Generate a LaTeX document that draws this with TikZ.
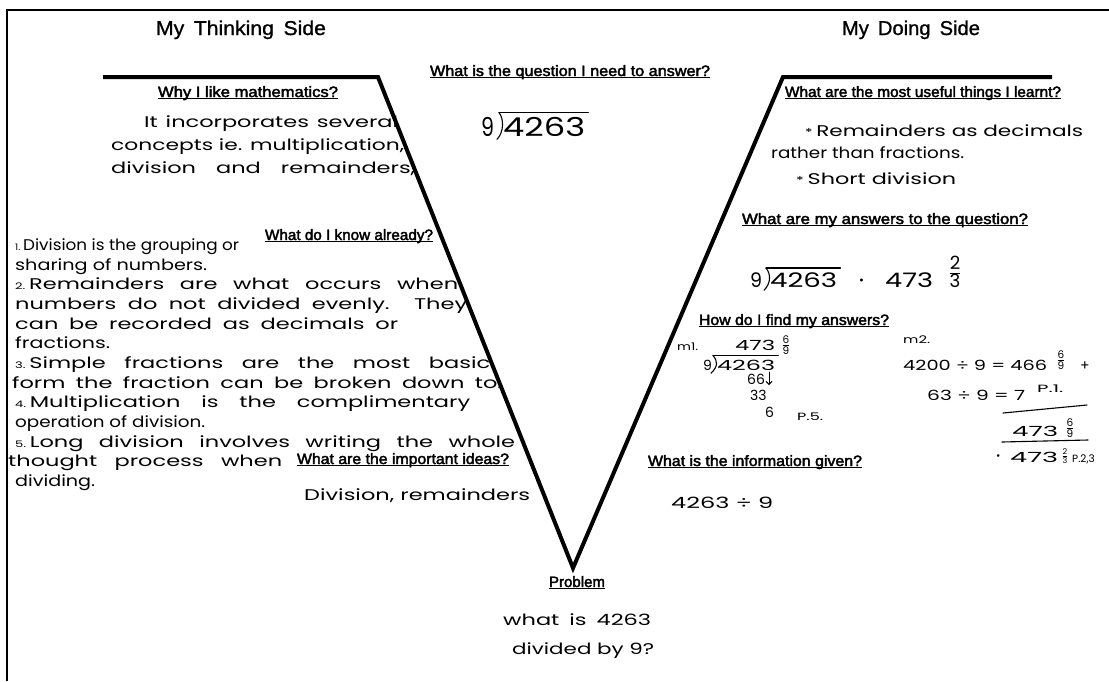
\documentclass[tikz,border=0pt]{standalone}
\usepackage{fontspec}
\usepackage{graphicx}
\usepackage{amsmath}
\setmainfont{Liberation Sans}
\newfontfamily\labf[FakeBold=2.5]{Liberation Sans}
\newfontfamily\ttlf[FakeBold=1]{Liberation Sans}
\newfontfamily\hwf{Poppins}
\usetikzlibrary{calc,arrows.meta}
\newdimen\fitdim
\newsavebox\fitbox
\newcommand\fitw[2]{\sbox\fitbox{#2}\fitdim=\wd\fitbox\pgfmathsetmacro\fitsx{#1/\fitdim}\scalebox{\fitsx}[1]{\usebox\fitbox}}
% handwritten line: stretch letters at most 1.45, spread the word spaces for the rest
\newcommand\fitl[2]{\sbox\fitbox{#2}\fitdim=\wd\fitbox
  \pgfmathsetmacro\fitsx{#1/\fitdim}%
  \pgfmathparse{\fitsx>1.45?1:0}%
  \ifnum\pgfmathresult=1 \pgfmathsetmacro\fitinner{#1/1.45}\scalebox{1.45}[1]{\makebox[\fitinner pt][s]{#2}}%
  \else\scalebox{\fitsx}[1]{\usebox\fitbox}\fi}
\newcommand\ul[1]{\setbox0\hbox{#1}\rlap{\rule[-2.4pt]{\wd0}{1.2pt}}\box0}
\newcommand\hfr[2]{$\genfrac{}{}{0.8pt}{}{\text{#1}}{\text{#2}}$}
\newcommand\ldivbar[1]{%
  \draw[pen] ($(#1.north west)+(-4,-4)$) -- ($(#1.north east)+(3,-4)$);
  \draw[pen] ($(#1.north west)+(-4,-4)$) .. controls ($(#1.north west)+(1,2)$) and ($(#1.south west)+(1,-4)$) .. ($(#1.south west)+(-6,3)$);}
\begin{document}
\begin{tikzpicture}[x=1pt,y=-1pt,
  lab/.style={font=\labf\fontsize{15}{16}\selectfont, inner sep=0pt, anchor=base},
  ttl/.style={font=\ttlf\fontsize{20}{22}\selectfont, inner sep=0pt, anchor=base},
  hw/.style={font=\hwf\fontsize{15.5}{18}\selectfont, inner sep=0pt, anchor=base west},
  hwm/.style={font=\hwf\fontsize{14}{15}\selectfont, inner sep=0pt, anchor=base west},
  hws/.style={font=\hwf\fontsize{10.5}{12}\selectfont, inner sep=0pt, anchor=base west},
  fr/.style={font=\hwf\fontsize{15}{15}\selectfont, inner sep=0pt, anchor=center},
  vline/.style={line width=4pt, line join=miter},
  frameline/.style={line width=2.5pt},
  pen/.style={line width=1.1pt, line cap=round}]
\useasboundingbox (0,0) rectangle (1109,681);
\fill[white] (0,0) rectangle (1109,681);
% frame
\coordinate (FB) at (7,681); \coordinate (FC) at (7,10); \coordinate (FR) at (1109,10);
\draw[frameline] (FB) -- (FC) -- (FR);
% V
\coordinate (L0) at (103,77); \coordinate (L1) at (378,77); \coordinate (V) at (573,568);
\coordinate (R1) at (783,77); \coordinate (R0) at (1052,77);
\draw[vline] (L0) -- (L1) -- (V) -- (R1) -- (R0);
% titles
\node[ttl] (tL) at (241,35) {\fitw{170}{My\hspace{0.45em}Thinking\hspace{0.45em}Side}};
\node[ttl] (tR) at (911,35) {\fitw{138}{My\hspace{0.45em}Doing\hspace{0.45em}Side}};
% labels
\node[lab] (qWhy) at (248,97) {\ul{\fitw{180}{Why I like mathematics?}}};
\node[lab] (qQ) at (570,76) {\ul{\fitw{280}{What is the question I need to answer?}}};
\node[lab] (qUse) at (923,97) {\ul{\fitw{276}{What are the most useful things I learnt?}}};
\node[lab] (qAns) at (885,224) {\ul{\fitw{286}{What are my answers to the question?}}};
\node[lab] (qHow) at (794,325) {\ul{\fitw{190}{How do I find my answers?}}};
\node[lab] (qInfo) at (755,466) {\ul{\fitw{214}{What is the information given?}}};
\node[lab] (qKnow) at (349,240) {\ul{\fitw{168}{What do I know already?}}};
\node[lab] (qIdeas) at (403,464) {\ul{\fitw{212}{What are the important ideas?}}};
\node[lab] (qProb) at (577,587) {\ul{\fitw{56}{Problem}}};
% why block
\node[hw] (w1) at (144,127) {\fitl{254}{It incorporates several}};
\node[hw] (w2) at (111,150) {\fitl{293}{concepts ie. multiplication,}};
\node[hw] (w3) at (111,173) {\fitl{304}{division and remainders,}};
% question
\node[hw, font=\hwf\fontsize{26}{28}\selectfont] (qn) at (481,136) {\fitw{13}{9}};
\node[hw, font=\hwf\fontsize{26}{28}\selectfont] (qd) at (503,136) {\fitw{82}{4263}};
\ldivbar{qd}
% know block
\node[hw] (k1) at (15,250) {\fitl{224}{{\fontsize{9}{9}\selectfont 1.}\,Division is the grouping or}};
\node[hw] (k2) at (15,270) {\fitl{192}{sharing of numbers.}};
\node[hw] (k3) at (15,289) {\fitl{443}{{\fontsize{9}{9}\selectfont 2.}\,Remainders are what occurs when}};
\node[hw] (k4) at (15,309) {\fitl{452}{numbers do not divided evenly. They}};
\node[hw] (k5) at (15,329) {\fitl{383}{can be recorded as decimals or}};
\node[hw] (k6) at (15,348) {\fitl{95}{fractions.}};
\node[hw] (k7) at (15,368) {\fitl{475}{{\fontsize{9}{9}\selectfont 3.}\,Simple fractions are the most basic}};
\node[hw] (k8) at (12,388) {\fitl{490}{form the fraction can be broken down to.}};
\node[hw] (k9) at (15,407) {\fitl{455}{{\fontsize{9}{9}\selectfont 4.}\,Multiplication is the complimentary}};
\node[hw] (k10) at (15,427) {\fitl{190}{operation of division.}};
\node[hw] (k11) at (15,447) {\fitl{500}{{\fontsize{9}{9}\selectfont 5.}\,Long division involves writing the whole}};
\node[hw] (k12) at (8,466) {\fitl{274}{thought process when}};
\node[hw] (k13) at (15,486) {\fitl{80}{dividing.}};
% ideas
\node[hw] (id1) at (304,500) {\fitl{226}{Division, remainders}};
% useful
\node[hw] (u1) at (805,136) {\fitl{278}{{\fontsize{11}{11}\selectfont *}\,Remainders as decimals}};
\node[hw] (u2) at (771,158) {\fitl{193}{rather than fractions.}};
\node[hw] (u3) at (796,184) {\fitl{160}{{\fontsize{11}{11}\selectfont *}\,Short division}};
% answers
\node[hw, font=\hwf\fontsize{20}{22}\selectfont] (an) at (750,287) {\fitw{12}{9}};
\node[hw, font=\hwf\fontsize{20}{22}\selectfont] (ad) at (770,287) {\fitw{67}{4263}};
\ldivbar{ad}
\node[hw, font=\hwf\fontsize{12}{12}\selectfont] (adot) at (859,284) {•};
\node[hw, font=\hwf\fontsize{20}{22}\selectfont] (a473) at (885,287) {\fitw{48}{473}};
\node[fr, font=\hwf\fontsize{26}{26}\selectfont] (afr) at (955,272) {\hfr{2}{3}};
% m1
\node[hws] (m1) at (677,350) {\fitw{21}{m1.}};
\node[hwm] (m1q) at (735,350) {\fitw{40}{473}};
\node[fr] (m1f) at (786,345) {\hfr{6}{9}};
\node[hwm] (m1n) at (703,370) {9};
\node[hwm] (m1d) at (717,370) {\fitw{58}{4263}};
\ldivbar{m1d}
\node[hwm] (m1r1) at (747,384) {66};
\coordinate (ar1) at (769,372); \coordinate (ar2) at (769,385);
\draw[pen, line width=0.9pt, -{Straight Barb[length=3pt]}] (ar1) -- (ar2);
\node[hwm] (m1r2) at (750,400) {33};
\node[hwm] (m1r3) at (765,417) {6};
\node[hws] (p5) at (797,420) {\fitw{26}{P.5.}};
% m2
\node[hws] (m2) at (903,343) {\fitw{27}{m2.}};
\node[hwm] (m2a) at (903,370) {\fitw{144}{4200 ÷ 9 = 466}};
\node[fr] (m2af) at (1061,360) {\hfr{6}{9}};
\node[hwm] (m2plus) at (1080,370) {+};
\node[hwm] (m2b) at (927,400) {\fitw{98}{63 ÷ 9 = 7}};
\node[hws] (p1) at (1037,392) {\fitw{26}{P.1.}};
\coordinate (s1a) at (1003,413); \coordinate (s1b) at (1087,405);
\draw[pen] (s1a) -- (s1b);
\node[hwm] (m2c) at (1012,436) {\fitw{46}{473}};
\node[fr] (m2cf) at (1070,428) {\hfr{6}{9}};
\coordinate (s2a) at (1002,442); \coordinate (s2b) at (1088,440);
\draw[pen] (s2a) -- (s2b);
\node[hws] (m2eq) at (996,459) {•};
\node[hwm] (m2d) at (1010,462) {\fitw{48}{473}};
\node[fr, font=\hwf\fontsize{12}{12}\selectfont] (m2df) at (1065,456) {\hfr{2}{3}};
\node[hws] (p23) at (1072,462) {P.2,3};
% info
\node[hw] (inf) at (671,508) {\fitw{102}{4263 ÷ 9}};
% problem
\node[hw] (pb1) at (503,625) {\fitl{148}{what is 4263}};
\node[hw] (pb2) at (512,654) {\fitl{142}{divided by 9?}};
\end{tikzpicture}
\end{document}
